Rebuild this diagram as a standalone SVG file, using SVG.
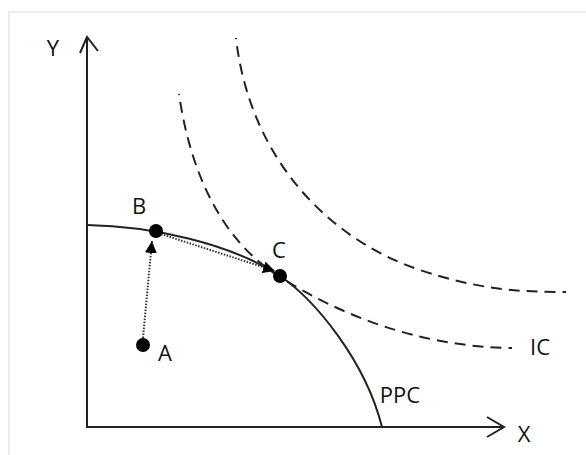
<svg xmlns="http://www.w3.org/2000/svg" width="586" height="455" viewBox="0 0 586 455">
<style>
.lbl{font-family:"Open Sans","Liberation Sans",sans-serif;font-size:22px;fill:#111;text-anchor:middle}
.ax{fill:none;stroke:#222;stroke-width:2}
.ic{fill:none;stroke:#222;stroke-width:2;stroke-dasharray:11 7}
.dot{fill:#000}
.dotted{fill:none;stroke:#333;stroke-width:2;stroke-dasharray:1.5 1.5}
</style>
<defs>
<marker id="tri" viewBox="0 0 10 10" refX="10" refY="5" markerWidth="12" markerHeight="12" markerUnits="userSpaceOnUse" orient="auto">
<path d="M0,0 L10,5 L0,10 z" fill="#000"/>
</marker>
</defs>
<rect width="586" height="455" fill="#fff"/>
<path d="M9,455 V12 H586" fill="none" stroke="#ececec" stroke-width="2"/>
<g id="connectors">
<path class="ax" d="M87,427 V38"/>
<path class="ax" d="M80,53 L87,37 L98,51"/>
<path class="ax" d="M86,427 H504"/>
<path class="ax" d="M487,417 L504,427 L487,437"/>
<path id="ppc" class="ax" d="M87,225 C150,226 230,243 280,276 C315,300 365,360 382,427"/>
<path id="ic1" class="ic" stroke-dashoffset="10" d="M179,94 C190,170 220,240 280,277 C340,315 420,347 512,348"/>
<path id="ic2" class="ic" stroke-dashoffset="10" d="M236,38 C250,160 330,240 420,270 C480,290 520,292 566,292"/>
<path class="dotted" d="M143,338 L152,241" marker-end="url(#tri)"/>
<path class="dotted" d="M161,234 L275,271" marker-end="url(#tri)"/>
</g>
<g id="A"><circle class="dot" cx="143" cy="345" r="7"/><text class="lbl" x="165" y="361">A</text></g>
<g id="B"><circle class="dot" cx="156" cy="231" r="7"/><text class="lbl" x="139" y="214">B</text></g>
<g id="C"><circle class="dot" cx="280" cy="276" r="7"/><text class="lbl" x="279" y="258">C</text></g>
<g id="labels">
<text class="lbl" x="53" y="56">Y</text>
<text class="lbl" x="524" y="442">X</text>
<text class="lbl" x="400" y="403">PPC</text>
<text class="lbl" x="540" y="355">IC</text>
</g>
</svg>
